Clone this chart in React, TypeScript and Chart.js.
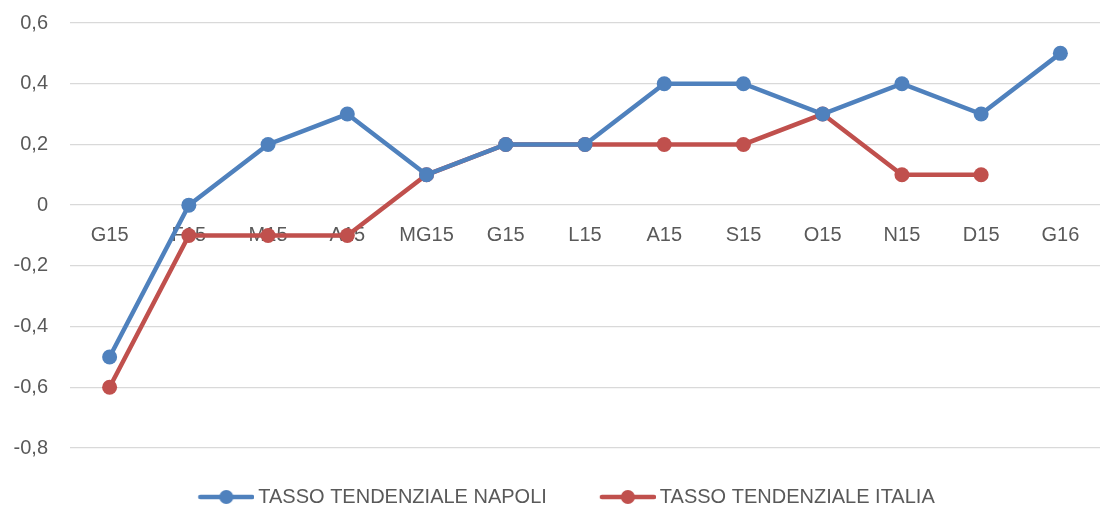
import React, { useEffect, useRef } from "react";
import { Chart, registerables } from "chart.js";

Chart.register(...registerables);

const categories = ["G15", "F15", "M15", "A15", "MG15", "G15", "L15", "A15", "S15", "O15", "N15", "D15", "G16"];
const napoli = [-0.5, 0, 0.2, 0.3, 0.1, 0.2, 0.2, 0.4, 0.4, 0.3, 0.4, 0.3, 0.5];
const italia = [-0.6, -0.1, -0.1, -0.1, 0.1, 0.2, 0.2, 0.2, 0.2, 0.3, 0.1, 0.1, null];
const seriesNames = ["TASSO TENDENZIALE NAPOLI", "TASSO TENDENZIALE ITALIA"];
const seriesColors = ["#4f81bd", "#c0504d"];

const FONT = "'Liberation Sans', Arial, sans-serif";
const TEXT = "#595959";

function legendMarker(color: string) {
  // 76px wide image; the visible marker occupies its right 56px
  const c = document.createElement("canvas");
  c.width = 76;
  c.height = 16;
  const ctx = c.getContext("2d")!;
  ctx.strokeStyle = color;
  ctx.lineWidth = 4.5;
  ctx.lineCap = "round";
  ctx.beginPath();
  ctx.moveTo(22, 8);
  ctx.lineTo(74, 8);
  ctx.stroke();
  ctx.fillStyle = color;
  ctx.beginPath();
  ctx.arc(48, 8, 7, 0, Math.PI * 2);
  ctx.fill();
  return c;
}

export default function App() {
  const ref = useRef<HTMLCanvasElement>(null);
  useEffect(() => {
    document.body.style.margin = "0";
    const markers = seriesColors.map(legendMarker);
    const chart = new Chart(ref.current!, {
      type: "line",
      data: {
        labels: categories,
        datasets: [napoli, italia].map((d, i) => ({
          label: seriesNames[i],
          data: d,
          borderColor: seriesColors[i],
          backgroundColor: seriesColors[i],
          borderWidth: 4.5,
          pointRadius: 7.5,
          pointHoverRadius: 7.5,
          pointBorderWidth: 0,
          pointStyle: "circle",
          tension: 0,
          spanGaps: false,
        })),
      },
      options: {
        responsive: false,
        animation: false,
        layout: { autoPadding: false, padding: { top: 23, left: 0, right: 0, bottom: 0 } },
        plugins: {
          tooltip: { enabled: false },
          legend: {
            position: "bottom",
            labels: {
              font: { family: FONT, size: 20 },
              color: TEXT,
              usePointStyle: true,
              pointStyleWidth: 64,
              padding: 39,
              generateLabels: (ch: any) =>
                ch.data.datasets.map((ds: any, i: number) => ({
                  text: ds.label,
                  fillStyle: seriesColors[i],
                  strokeStyle: seriesColors[i],
                  fontColor: TEXT,
                  lineWidth: 0,
                  pointStyle: markers[i],
                  datasetIndex: i,
                  hidden: false,
                })),
            },
          },
        },
        scales: {
          x: {
            type: "category",
            position: { y: 0 } as any,
            offset: true,
            grid: { display: false, drawTicks: false },
            border: { display: false },
            afterFit: (s: any) => {
              s.paddingLeft = 0;
              s.paddingRight = 0;
            },
            ticks: { font: { family: FONT, size: 20 }, color: TEXT, padding: 18, maxRotation: 0, autoSkip: false },
          },
          y: {
            min: -0.8,
            max: 0.6,
            grid: { color: "#d9d9d9", lineWidth: 1.3, drawTicks: false },
            border: { display: false },
            afterFit: (s: any) => {
              s.width = 70;
              s.paddingTop = 0;
              s.paddingBottom = 0;
            },
            ticks: {
              stepSize: 0.2,
              font: { family: FONT, size: 20 },
              color: TEXT,
              padding: 22,
              callback: (v: any) => {
                const n = Math.round(Number(v) * 10) / 10;
                return n === 0 ? "0" : n.toFixed(1).replace(".", ",");
              },
            },
          },
        },
      },
      plugins: [
        {
          id: "legendLayout",
          afterInit(ch: any) {
            const lg = ch.legend;
            if (!lg) return;
            const orig = lg.fit.bind(lg);
            lg.fit = () => {
              orig();
              lg.height = 63;
            };
          },
          afterLayout(ch: any) {
            const lg = ch.legend;
            if (lg) lg.left += 19;
          },
        },
      ],
    });
    return () => chart.destroy();
  }, []);
  return <canvas ref={ref} width={1100} height={511} style={{ display: "block" }} />;
}
